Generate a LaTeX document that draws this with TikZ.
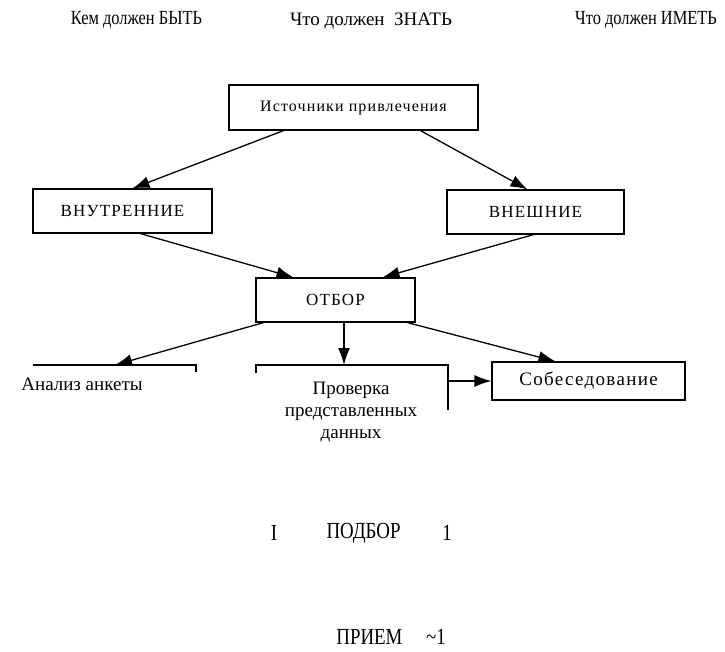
\documentclass[tikz,border=0pt]{standalone}
\usepackage{fontspec}
\setmainfont{Liberation Serif}
\newfontfamily\narrowserif[FakeStretch=0.82]{Liberation Serif}
\newfontfamily\spacedserif[LetterSpace=7]{Liberation Serif}
\usetikzlibrary{arrows.meta}

\tikzset{
  stage/.style={draw, line width=1.2pt, inner sep=0pt,
    font=\spacedserif\fontsize{17}{19}\selectfont},
  head/.style={font=\narrowserif\fontsize{20}{22}\selectfont},
  plain/.style={font=\fontsize{19}{22}\selectfont, align=center},
  big/.style={font=\narrowserif\fontsize{23}{26}\selectfont},
  arr/.style={-{Latex[length=17pt,width=12pt]}, line width=1.3pt},
}

\begin{document}
\begin{tikzpicture}[x=1pt,y=-1pt]
\useasboundingbox (0,0) rectangle (725,651);

% headings
\node[head] (byt) at (136.5,19.5) {Кем должен БЫТЬ};
\node[plain] (znat) at (371,21) {Что должен \ ЗНАТЬ};
\node[head] (imet) at (646,19.5) {Что должен ИМЕТЬ};

% boxes
\node[stage, minimum width=249pt, minimum height=45pt, font=\spacedserif\fontsize{16}{18}\selectfont]
  (ist) at (353.5,107.5) {Источники привлечения};
\node[stage, minimum width=179pt, minimum height=44pt] (intr) at (122.5,211) {ВНУТРЕННИЕ};
\node[stage, minimum width=177pt, minimum height=44pt] (extr) at (535.5,212) {ВНЕШНИЕ};
\node[stage, minimum width=159pt, minimum height=44pt] (otb) at (335.5,300) {ОТБОР};
\node[stage, minimum width=193pt, minimum height=38pt, font=\spacedserif\fontsize{19}{21}\selectfont]
  (sob) at (588.5,381) {Собеседование};

% open brackets under ОТБОР
\draw[line width=1.2pt] (33,365) -- (196,365) -- (196,372);
\draw[line width=1.2pt] (256,373) -- (256,365) -- (448,365) -- (448,410);
\coordinate (anl-top) at (115,365);
\coordinate (prv-top) at (344,365);
\coordinate (prv-out) at (448,381);
\node[plain] (anl) at (82,384) {Анализ анкеты};
\node[plain] (prv) at (351,412) {Проверка\\представленных\\данных};

% arrows
\draw[arr] ([xshift=-70pt]ist.south) -- ([xshift=10pt]intr.north);
\draw[arr] ([xshift=67pt]ist.south) -- ([xshift=-8pt]extr.north);
\draw[arr] ([xshift=18pt]intr.south) -- ([xshift=-42pt]otb.north);
\draw[arr] ([xshift=-2pt]extr.south) -- ([xshift=47pt]otb.north);
\draw[arr] ([xshift=-72pt]otb.south) -- (anl-top);
\draw[arr] (otb.south -| prv-top) -- (prv-top);
\draw[arr] ([xshift=72pt]otb.south) -- ([xshift=-33pt]sob.north);
\draw[arr] (prv-out) -- (sob.west);

% bottom lines
\node[big] (one-a) at (274,533) {I};
\node[big] (podbor) at (363.5,533) {ПОДБОР};
\node[big] (one-b) at (447,533) {1};
\node[big] (priem) at (369.5,637) {ПРИЕМ};
\node[big] (one-c) at (436,637) {\textasciitilde1};
\end{tikzpicture}
\end{document}
